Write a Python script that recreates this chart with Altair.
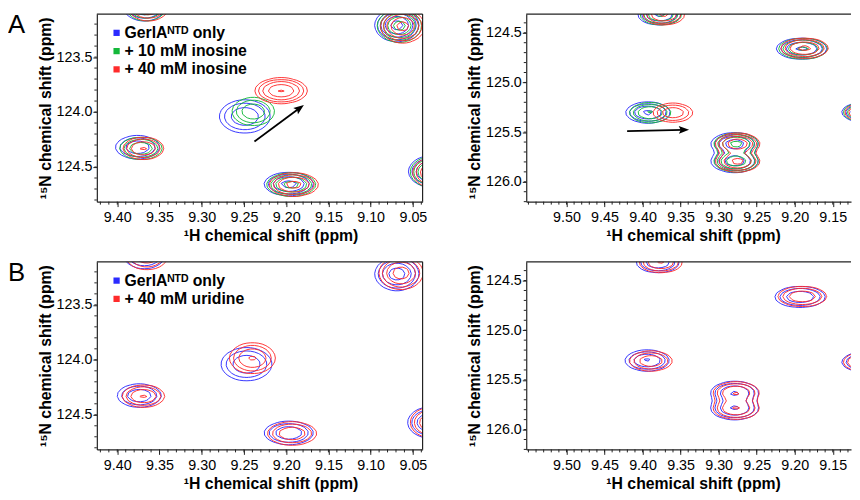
import numpy as np
import pandas as pd
import altair as alt

FONT = "Liberation Sans, Arial, DejaVu Sans, sans-serif"
FRAME = "#222"

# ---------------- series / legend ----------------
KEYS_A = ["apo", "ino10", "ino40"]
KEYS_B = ["apo", "uri40"]
SERIES_A = ["GerlAᴺᵀᴰ only", "+ 10 mM inosine", "+ 40 mM inosine"]
SERIES_B = ["GerlAᴺᵀᴰ only", "+ 40 mM uridine"]
COLORS_A = ["#2b2bff", "#14b83a", "#ff2b2b"]
COLORS_B = ["#2b2bff", "#ff2b2b"]

# ---------------- axes (ppm) ----------------
LEFT_X_DOMAIN = [9.0385, 9.4242]
LEFT_Y_DOMAIN = [123.109, 124.815]
RIGHT_X_DOMAIN = [9.1260, 9.5529]
RIGHT_Y_DOMAIN = [124.312, 126.20]

LEFT_X_TICKS = [9.05, 9.10, 9.15, 9.20, 9.25, 9.30, 9.35, 9.40]
LEFT_Y_TICKS = [123.5, 124.0, 124.5]
RIGHT_X_TICKS = [9.15, 9.20, 9.25, 9.30, 9.35, 9.40, 9.45, 9.50]
RIGHT_Y_TICKS = [124.5, 125.0, 125.5, 126.0]
LEFT_X_MINOR = [round(9.04 + 0.01 * k, 2) for k in range(39)]
LEFT_Y_MINOR = [round(123.2 + 0.1 * k, 1) for k in range(17)]
RIGHT_X_MINOR = [round(9.13 + 0.01 * k, 2) for k in range(43)]
RIGHT_Y_MINOR = [round(124.4 + 0.1 * k, 1) for k in range(19)]

X_TITLE = "¹H chemical shift (ppm)"
Y_TITLE = "¹⁵N chemical shift (ppm)"

# ---------------- peaks ----------------
# (1H ppm, 15N ppm, outer-contour half-width 1H, outer-contour half-height 15N, relative intensity)
AL_APO = [(9.368, 123.04, 0.025, 0.13, 0.55), (9.069, 123.21, 0.026, 0.15, 1.0),
          (9.249, 124.04, 0.030, 0.15, 0.5), (9.376, 124.32, 0.026, 0.105, 0.5),
          (9.197, 124.655, 0.029, 0.105, 0.65), (9.029, 124.54, 0.026, 0.14, 0.7)]
AL_INO10 = [(9.366, 123.04, 0.024, 0.13, 0.55), (9.066, 123.215, 0.026, 0.15, 1.0),
            (9.239, 123.995, 0.025, 0.127, 0.5), (9.372, 124.33, 0.025, 0.10, 0.5),
            (9.194, 124.66, 0.029, 0.105, 0.65), (9.027, 124.545, 0.026, 0.14, 0.7)]
AL_INO40 = [(9.363, 123.04, 0.024, 0.13, 0.55), (9.062, 123.22, 0.026, 0.15, 1.0),
            (9.206, 123.806, 0.031, 0.116, 0.88), (9.369, 124.33, 0.024, 0.10, 0.58),
            (9.191, 124.66, 0.029, 0.105, 0.65), (9.024, 124.55, 0.026, 0.14, 0.7)]

AR_APO = [(9.378, 124.32, 0.028, 0.10, 0.6), (9.191, 124.66, 0.033, 0.105, 0.6),
          (9.393, 125.303, 0.029, 0.105, 0.6), (9.279, 125.617, 0.031, 0.11, 0.72),
          (9.279, 125.795, 0.031, 0.11, 0.75), (9.108, 125.30, 0.030, 0.10, 0.6)]
AR_INO10 = [(9.376, 124.32, 0.027, 0.10, 0.6), (9.189, 124.66, 0.032, 0.103, 0.6),
            (9.390, 125.305, 0.027, 0.10, 0.58), (9.277, 125.617, 0.029, 0.105, 0.62),
            (9.277, 125.795, 0.029, 0.105, 0.8), (9.106, 125.30, 0.030, 0.10, 0.6)]
AR_INO40 = [(9.372, 124.32, 0.027, 0.10, 0.6), (9.187, 124.655, 0.031, 0.10, 0.62),
            (9.360, 125.305, 0.026, 0.095, 0.5), (9.275, 125.617, 0.029, 0.105, 0.8),
            (9.275, 125.795, 0.029, 0.105, 0.62), (9.104, 125.30, 0.030, 0.10, 0.6)]

BL_APO = [(9.368, 123.04, 0.025, 0.13, 0.5), (9.069, 123.22, 0.026, 0.15, 0.7),
          (9.247, 124.04, 0.030, 0.15, 0.5), (9.374, 124.325, 0.026, 0.105, 0.5),
          (9.197, 124.665, 0.029, 0.105, 0.5), (9.030, 124.57, 0.026, 0.14, 0.55)]
BL_URI40 = [(9.365, 123.05, 0.025, 0.13, 0.5), (9.064, 123.21, 0.026, 0.15, 0.7),
            (9.240, 123.985, 0.027, 0.14, 0.58), (9.369, 124.33, 0.025, 0.10, 0.58),
            (9.193, 124.67, 0.029, 0.105, 0.5), (9.027, 124.57, 0.026, 0.14, 0.55)]

BR_APO = [(9.380, 124.32, 0.028, 0.10, 0.5), (9.193, 124.665, 0.033, 0.105, 0.5),
          (9.394, 125.305, 0.029, 0.105, 0.58), (9.279, 125.626, 0.031, 0.11, 0.56),
          (9.279, 125.79, 0.031, 0.11, 0.56), (9.108, 125.32, 0.030, 0.10, 0.55)]
BR_URI40 = [(9.376, 124.32, 0.028, 0.10, 0.58), (9.190, 124.66, 0.032, 0.10, 0.5),
            (9.389, 125.31, 0.028, 0.10, 0.5), (9.277, 125.626, 0.030, 0.105, 0.56),
            (9.277, 125.79, 0.030, 0.105, 0.56), (9.106, 125.32, 0.030, 0.10, 0.55)]

CONTOUR_LEVELS = [0.12, 0.2, 0.33, 0.55, 0.85]

# arrows: [tail, head] in ppm, head angle (deg)
ARROW_A_X = [9.2376, 9.1848]
ARROW_A_Y = [124.268, 123.968]
ARROW_A_ANGLE = 53.5
ARROW_R_X = [9.4203, 9.3468]
ARROW_R_Y = [125.491, 125.477]
ARROW_R_ANGLE = 88.5

# ---------------- contouring ----------------
EDGES = {1: [(3, 0)], 2: [(0, 1)], 3: [(3, 1)], 4: [(1, 2)], 5: [(3, 0), (1, 2)],
         6: [(0, 2)], 7: [(3, 2)], 8: [(2, 3)], 9: [(0, 2)], 10: [(0, 1), (2, 3)],
         11: [(1, 2)], 12: [(1, 3)], 13: [(0, 1)], 14: [(0, 3)]}


def march(xs, ys, Z, lev):
    B = (Z > lev).astype(np.int8)
    idx = B[:-1, :-1] | (B[:-1, 1:] << 1) | (B[1:, 1:] << 2) | (B[1:, :-1] << 3)
    segs = []
    for j, i in np.argwhere((idx > 0) & (idx < 15)):
        k = int(idx[j, i])
        x0, x1 = xs[i], xs[i + 1]
        y0, y1 = ys[j], ys[j + 1]
        z0, z1, z2, z3 = Z[j, i], Z[j, i + 1], Z[j + 1, i + 1], Z[j + 1, i]

        def pt(e):
            if e == 0:
                return (x0 + (lev - z0) / (z1 - z0) * (x1 - x0), y0)
            if e == 1:
                return (x1, y0 + (lev - z1) / (z2 - z1) * (y1 - y0))
            if e == 2:
                return (x0 + (lev - z3) / (z2 - z3) * (x1 - x0), y1)
            return (x0, y0 + (lev - z0) / (z3 - z0) * (y1 - y0))

        for a, b in EDGES[k]:
            pa, pb = pt(a), pt(b)
            segs.append((pa[0], pa[1], pb[0], pb[1]))
    return segs


def contour_frame(named_peaks, xdom, ydom):
    xs = np.arange(xdom[0] - 0.08, xdom[1] + 0.08, 0.0045)
    ys = np.arange(ydom[0] - 0.35, ydom[1] + 0.35, 0.035)
    X, Y = np.meshgrid(xs, ys)
    rows = []
    for name, peaks in named_peaks:
        Z = np.zeros_like(X)
        for (px, py, wx, wy, a) in peaks:
            f = np.sqrt(2 * np.log(a / CONTOUR_LEVELS[0]))
            sx, sy = wx / f, wy / f
            Z += a * np.exp(-0.5 * ((X - px) / sx) ** 2 - 0.5 * ((Y - py) / sy) ** 2)
        for lev in CONTOUR_LEVELS:
            for s in march(xs, ys, Z, lev):
                rows.append((round(s[0], 5), round(s[1], 5), round(s[2], 5), round(s[3], 5), name))
    return pd.DataFrame(rows, columns=["x", "y", "x2", "y2", "s"])


def panel(keys, names, colors, peak_lists, xdom, ydom, xticks, yticks, xminor, yminor,
          width, height, title_x, letter=None, legend=False, arrow=None, right_border=True):
    xs = alt.Scale(domain=xdom, reverse=True, nice=False, zero=False)
    ys = alt.Scale(domain=ydom, reverse=True, nice=False, zero=False)
    xax = alt.Axis(values=xticks, format=".2f", title=X_TITLE, titleX=title_x, tickSize=5,
                   labelPadding=4, titlePadding=4, labelFlush=False, labelOverlap=False)
    yax = alt.Axis(values=yticks, format=".1f", title=Y_TITLE, tickSize=4, labelPadding=1,
                   titlePadding=3, labelOverlap=False)

    def X(f):
        return alt.X(f, scale=xs, axis=xax)

    def Y(f):
        return alt.Y(f, scale=ys, axis=yax)

    df = contour_frame(list(zip(keys, peak_lists)), xdom, ydom)
    contours = alt.Chart(df).mark_rule(clip=True, strokeWidth=1, opacity=0.95).encode(
        x=X("x:Q"), y=Y("y:Q"), x2="x2:Q", y2="y2:Q",
        stroke=alt.Stroke("s:N", scale=alt.Scale(domain=keys, range=colors), legend=None),
    )
    layers = [contours]
    if legend:
        # legend carriers: placed outside the visible window (clipped)
        leg_df = pd.DataFrame({"s": names, "px": [xdom[1] + 1.0] * len(names),
                               "py": [ydom[1] + 5.0] * len(names)})
        layers.append(alt.Chart(leg_df).mark_square(size=40, opacity=1, clip=True).encode(
            x=X("px:Q"), y=Y("py:Q"),
            color=alt.Color("s:N", scale=alt.Scale(domain=names, range=colors), legend=alt.Legend(
                title=None, orient="none", legendX=12, legendY=11, symbolType="square",
                symbolSize=40, symbolStrokeWidth=0, labelFont=FONT, labelFontSize=16,
                labelFontWeight="bold", labelColor="black", rowPadding=2.5, padding=0,
                labelOffset=0, labelLimit=300)),
        ))
    # frame: top edge (and right edge on the left-hand panels)
    layers.append(alt.Chart(pd.DataFrame({"k": [0]})).mark_rule(color=FRAME, strokeWidth=1.2).encode(
        x=alt.value(0), x2=alt.value(width), y=alt.value(0)))
    if right_border:
        layers.append(alt.Chart(pd.DataFrame({"k": [0]})).mark_rule(color=FRAME, strokeWidth=1.2).encode(
            x=alt.value(width), y=alt.value(0), y2=alt.value(height)))
    layers.append(alt.Chart(pd.DataFrame({"m": xminor})).mark_rule(color=FRAME, strokeWidth=1).encode(
        x=X("m:Q"), y=alt.value(height), y2=alt.value(height + 3)))
    layers.append(alt.Chart(pd.DataFrame({"m": yminor})).mark_rule(color=FRAME, strokeWidth=1).encode(
        y=Y("m:Q"), x=alt.value(0), x2=alt.value(-2.5)))
    if arrow is not None:
        ax, ay, ang = arrow
        shaft = pd.DataFrame({"x": [ax[0]], "y": [ay[0]], "x2": [ax[1]], "y2": [ay[1]]})
        layers.append(alt.Chart(shaft).mark_rule(color="black", strokeWidth=1.8).encode(
            x=X("x:Q"), y=Y("y:Q"), x2="x2:Q", y2="y2:Q"))
        head = pd.DataFrame({"x": [ax[1]], "y": [ay[1]]})
        layers.append(alt.Chart(head).mark_point(
            shape="M0,-1L0.65,0.7L0,0.38L-0.65,0.7Z", filled=True, size=150, angle=ang,
            color="black", opacity=1, strokeWidth=0).encode(x=X("x:Q"), y=Y("y:Q")))
    if letter is not None:
        layers.append(alt.Chart(pd.DataFrame({"t": [letter]})).mark_text(
            align="left", baseline="top", fontSize=26, font=FONT, color="black").encode(
            text="t:N", x=alt.value(-90), y=alt.value(-1.9)))
    return alt.layer(*layers).properties(width=width, height=height)


al = panel(KEYS_A, SERIES_A, COLORS_A, [AL_APO, AL_INO10, AL_INO40], LEFT_X_DOMAIN, LEFT_Y_DOMAIN,
           LEFT_X_TICKS, LEFT_Y_TICKS, LEFT_X_MINOR, LEFT_Y_MINOR, 330, 190, 176,
           letter="A", legend=True, arrow=(ARROW_A_X, ARROW_A_Y, ARROW_A_ANGLE))
ar = panel(KEYS_A, SERIES_A, COLORS_A, [AR_APO, AR_INO10, AR_INO40], RIGHT_X_DOMAIN, RIGHT_Y_DOMAIN,
           RIGHT_X_TICKS, RIGHT_Y_TICKS, RIGHT_X_MINOR, RIGHT_Y_MINOR, 329, 190, 169,
           arrow=(ARROW_R_X, ARROW_R_Y, ARROW_R_ANGLE), right_border=False)
bl = panel(KEYS_B, SERIES_B, COLORS_B, [BL_APO, BL_URI40], LEFT_X_DOMAIN, LEFT_Y_DOMAIN,
           LEFT_X_TICKS, LEFT_Y_TICKS, LEFT_X_MINOR, LEFT_Y_MINOR, 330, 190, 176,
           letter="B", legend=True)
br = panel(KEYS_B, SERIES_B, COLORS_B, [BR_APO, BR_URI40], RIGHT_X_DOMAIN, RIGHT_Y_DOMAIN,
           RIGHT_X_TICKS, RIGHT_Y_TICKS, RIGHT_X_MINOR, RIGHT_Y_MINOR, 329, 190, 169,
           right_border=False)

top = alt.hconcat(al, ar, spacing=39).resolve_scale(color="independent", stroke="independent")
bottom = alt.hconcat(bl, br, spacing=39).resolve_scale(color="independent", stroke="independent")

chart = alt.vconcat(top, bottom, spacing=16).resolve_scale(
    color="independent", stroke="independent"
).properties(
    padding={"left": 0, "top": 1, "right": 0, "bottom": 0}
).configure_view(strokeWidth=0).configure_axis(
    labelFont=FONT, labelFontSize=14.5, labelColor="black", labelFontWeight="normal",
    titleFont=FONT, titleFontSize=16, titleFontWeight="bold", titleColor="black",
    domainColor=FRAME, domainWidth=1.2, tickColor=FRAME, tickWidth=1, grid=False,
)

chart.save("out.html", embed_options={"renderer": "svg", "actions": False})
